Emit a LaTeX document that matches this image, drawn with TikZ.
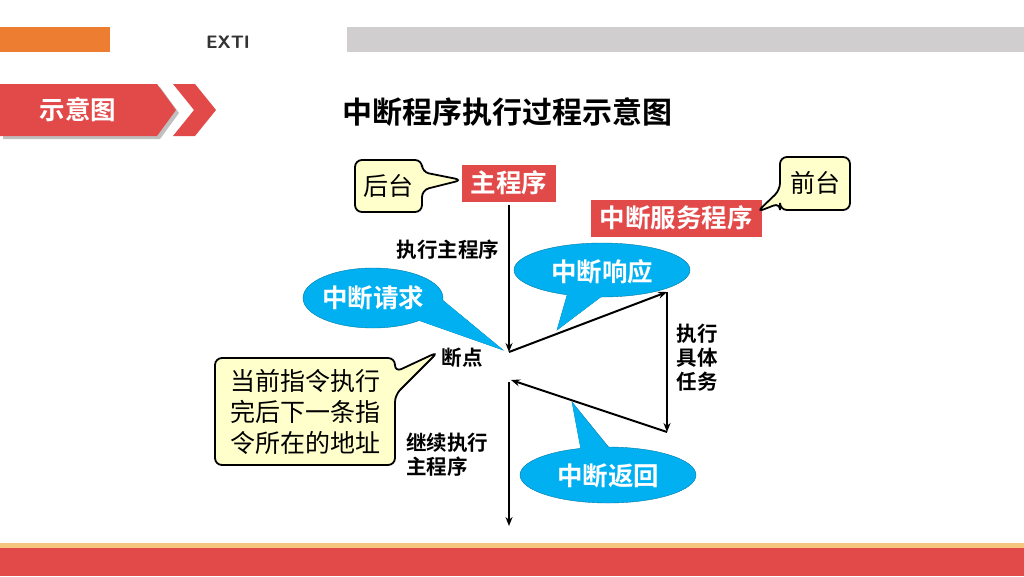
\documentclass[tikz,border=0pt]{standalone}
\usepackage{fontspec}
\setmainfont{Noto Sans CJK SC}
\newfontfamily\cjkb{Noto Sans CJK SC Bold}
\usetikzlibrary{arrows.meta}
\definecolor{bannerred}{HTML}{E24A4A}
\definecolor{orangebar}{HTML}{ED7D31}
\definecolor{graybar}{HTML}{D0CECE}
\definecolor{cyanfill}{HTML}{00B0F0}
\definecolor{notey}{HTML}{FFFFCC}
\definecolor{goldline}{HTML}{F5C77E}
\tikzset{
  lbl/.style={font=\cjkb\fontsize{20.5}{24}\selectfont, align=left, inner sep=0pt},
  redbox/.style={fill=bannerred, text=white, font=\cjkb\fontsize{25.5}{28}\selectfont, inner sep=0pt},
  bubble/.style={fill=cyanfill, draw=cyanfill!70!black, line width=0.4pt},
  bubtxt/.style={text=white, font=\cjkb\fontsize{25.5}{28}\selectfont},
  note/.style={fill=notey, draw=black, line width=1.8pt, rounded corners=7pt},
  notetxt/.style={font=\fontsize{25}{31}\selectfont, align=left},
  flow/.style={line width=2pt, -{Stealth[length=9pt,width=7pt]}}
}
\begin{document}
\begin{tikzpicture}[x=1pt,y=-1pt]
\useasboundingbox (0,0) rectangle (1024,576);
% header
\fill[orangebar] (0,27) rectangle (110,52);
\fill[graybar] (347,27) rectangle (1024,52);
\node (exti) at (228,42) {\sffamily\bfseries\fontsize{18}{20}\selectfont\color{black!80}EXTI};
\fill[black!25] (3,87) -- (160,87) -- (179,113) -- (160,139) -- (3,139) -- cycle;
\fill[bannerred] (0,84) -- (157,84) -- (176,110) -- (157,136) -- (0,136) -- cycle;
\fill[bannerred] (173,84) -- (195,84) -- (216,110) -- (195,136) -- (173,136) -- (194,110) -- cycle;
\node[text=white, font=\cjkb\fontsize{25.5}{28}\selectfont] (sy) at (78,110) {示意图};
\node[font=\cjkb\fontsize{30}{34}\selectfont] (title) at (507,112) {中断程序执行过程示意图};
% footer
\fill[goldline] (0,543) rectangle (1024,548);
\fill[bannerred] (0,548) rectangle (1024,576);
% red boxes
\node[redbox, minimum width=94pt, minimum height=37pt] (main) at (509,183) {主程序};
\node[redbox, minimum width=171pt, minimum height=37pt] (isr) at (676,218) {中断服务程序};
% yellow callouts
\draw[note] (355,160) -- (422,160) -- (422,172) -- (462,180) -- (422,190) -- (422,212) -- (355,212) -- cycle;
\node[notetxt] (bg) at (388,186) {后台};
\draw[note] (780,157) -- (850,157) -- (850,210) -- (780,210) -- (780,203) -- (757,212) -- (780,190) -- cycle;
\node[notetxt] (fg) at (815,183) {前台};
\draw[note] (215,358) -- (395,358) -- (395,372) -- (438,352) -- (395,395) -- (395,465) -- (215,465) -- cycle;
\node[notetxt] (addr) at (305,412) {当前指令执行\\完后下一条指\\令所在的地址};
% flow coordinates
\coordinate (top) at (509,205);
\coordinate (bp) at (509,352);
\coordinate (svtop) at (667,292);
\coordinate (svbot) at (667,432);
\coordinate (ret) at (511,380);
\coordinate (rs) at (509,382);
\coordinate (end) at (509,526);
% cyan bubbles
\fill[bubble] (440,298) -- (503,350) -- (412,318) -- cycle;
\filldraw[bubble] (373,298) ellipse [x radius=70, y radius=30];
\fill[cyanfill] (440,298) -- (503,350) -- (412,318) -- cycle;
\node[bubtxt] (req) at (373,298) {中断请求};
\fill[bubble] (570,285) -- (557,330) -- (610,290) -- cycle;
\filldraw[bubble] (602,270) ellipse [x radius=88, y radius=27];
\fill[cyanfill] (570,285) -- (557,330) -- (610,290) -- cycle;
\node[bubtxt] (resp) at (602,272) {中断响应};
\fill[bubble] (572,402) -- (583,460) -- (615,455) -- cycle;
\filldraw[bubble] (608,475) ellipse [x radius=88, y radius=28];
\fill[cyanfill] (572,402) -- (583,462) -- (615,458) -- cycle;
\node[bubtxt] (reti) at (608,476) {中断返回};
% flow
\draw[flow] (top) -- (bp);
\draw[flow] (bp) -- (svtop);
\draw[flow] (svtop) -- (svbot);
\draw[flow] (svbot) -- (ret);
\draw[flow] (rs) -- (end);
% labels
\node[lbl] (l1) at (448,250) {执行主程序};
\node[lbl] (l2) at (462,358) {断点};
\node[lbl] (l3) at (697,358) {执行\\具体\\任务};
\node[lbl] (l4) at (447,455) {继续执行\\主程序};
\end{tikzpicture}
\end{document}
